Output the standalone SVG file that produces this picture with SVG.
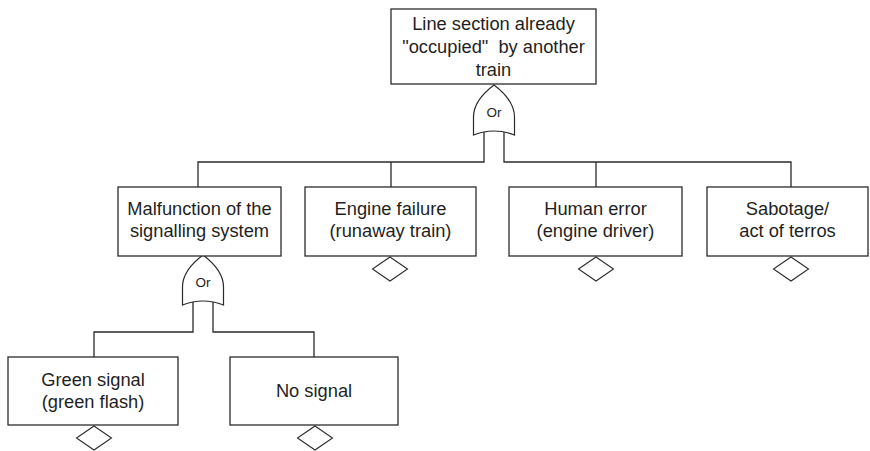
<svg xmlns="http://www.w3.org/2000/svg" xmlns:xlink="http://www.w3.org/1999/xlink" width="870" height="451" viewBox="0 0 870 451">
  <style>
    .box { fill: #fff; stroke: #2b2b2b; stroke-width: 1.3; }
    .lbl { font-family: "Liberation Sans", Arial, sans-serif; font-size: 18.3px; fill: #1f1f1f; text-anchor: middle; white-space: pre; }
    .gate { fill: #fff; stroke: #2b2b2b; stroke-width: 1.2; }
    .gtxt { font-family: "Liberation Sans", Arial, sans-serif; font-size: 13.5px; fill: #1f1f1f; text-anchor: middle; }
    .wire { fill: none; stroke: #2b2b2b; stroke-width: 1.3; }
    .dia { fill: #fff; stroke: #2b2b2b; stroke-width: 1.1; }
  </style>
  <defs>
    <!-- OR gate, apex at origin, 41 wide, 50 tall -->
    <path id="orGate" d="M0,0 C-8,6 -20.5,18 -20.5,32 L-20.5,50 Q0,42 20.5,50 L20.5,32 C20.5,18 8,6 0,0 Z"/>
    <!-- undeveloped-event diamond, top vertex at origin -->
    <path id="diamond" d="M0,0 L17.5,12 L0,24 L-17.5,12 Z"/>
  </defs>
  <rect width="870" height="451" fill="#fff"/>

  <g id="connectors">
    <path class="wire" d="M198,187 V162 H484 V130 M504,130 V162 H791 V187"/>
    <path class="wire" d="M391,162 V187 M596,162 V187"/>
    <path class="wire" d="M94,357 V332 H193 V300 M213,300 V332 H314 V357"/>
  </g>

  <g id="gate-top">
    <use href="#orGate" xlink:href="#orGate" class="gate" x="494" y="85"/>
    <text class="gtxt" x="494" y="117">Or</text>
  </g>
  <g id="gate-signalling">
    <use href="#orGate" xlink:href="#orGate" class="gate" x="203" y="255"/>
    <text class="gtxt" x="203" y="287">Or</text>
  </g>

  <g id="node-occupied">
    <rect class="box" x="391" y="9" width="205" height="75"/>
    <text class="lbl" x="493.5" y="30">Line section already</text>
    <text class="lbl" x="493.5" y="53">"occupied"  by another</text>
    <text class="lbl" x="493.5" y="76">train</text>
  </g>

  <g id="node-malfunction">
    <rect class="box" x="118" y="187" width="163" height="69"/>
    <text class="lbl" x="199.5" y="215">Malfunction of the</text>
    <text class="lbl" x="199.5" y="237">signalling system</text>
  </g>

  <g id="node-engine">
    <rect class="box" x="305" y="187" width="171" height="69"/>
    <text class="lbl" x="390.5" y="215">Engine failure</text>
    <text class="lbl" x="390.5" y="237">(runaway train)</text>
    <use href="#diamond" xlink:href="#diamond" class="dia" x="390" y="257"/>
  </g>

  <g id="node-human">
    <rect class="box" x="509" y="187" width="173" height="69"/>
    <text class="lbl" x="595.5" y="215">Human error</text>
    <text class="lbl" x="595.5" y="237">(engine driver)</text>
    <use href="#diamond" xlink:href="#diamond" class="dia" x="596" y="257"/>
  </g>

  <g id="node-sabotage">
    <rect class="box" x="707" y="187" width="161" height="69"/>
    <text class="lbl" x="787.5" y="215">Sabotage/</text>
    <text class="lbl" x="787.5" y="237">act of terros</text>
    <use href="#diamond" xlink:href="#diamond" class="dia" x="791" y="257"/>
  </g>

  <g id="node-green">
    <rect class="box" x="8" y="357" width="170" height="68"/>
    <text class="lbl" x="93" y="386">Green signal</text>
    <text class="lbl" x="93" y="408">(green flash)</text>
    <use href="#diamond" xlink:href="#diamond" class="dia" x="94" y="426"/>
  </g>

  <g id="node-nosignal">
    <rect class="box" x="230" y="357" width="168" height="68"/>
    <text class="lbl" x="314" y="397">No signal</text>
    <use href="#diamond" xlink:href="#diamond" class="dia" x="315" y="426"/>
  </g>
</svg>
